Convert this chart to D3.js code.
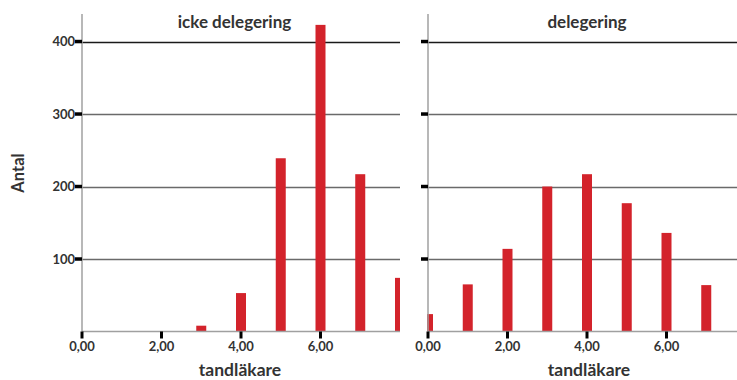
<!DOCTYPE html>
<html><head><meta charset="utf-8">
<script src="https://cdn.jsdelivr.net/npm/d3@7"></script>
<style>html,body{margin:0;padding:0;background:#fff}svg{display:block}</style>
</head><body>
<script>
// Data
const panelTitles = ["icke delegering", "delegering"];
const leftCategories = [3, 4, 5, 6, 7, 8];
const leftValues = [8, 53, 239, 423, 217, 74];
const rightCategories = [0, 1, 2, 3, 4, 5, 6, 7];
const rightValues = [24, 65, 114, 200, 217, 177, 136, 64];
const yTicks = [100, 200, 300, 400];
const xTicks = [0, 2, 4, 6];
const yLabel = "Antal";
const xLabel = "tandläkare";

const W = 737, H = 380;
const FONT = "Lato, 'Open Sans', sans-serif";
const svg = d3.select("body").append("svg").attr("width", W).attr("height", H);

const plotTop = 14, base = 331.5;
const y = d3.scaleLinear().domain([0, 438]).range([base, plotTop]);
const fmt = d => d.toFixed(2).replace(".", ",");

const panels = [
  {title: panelTitles[0], cats: leftCategories, vals: leftValues, x0: 82, x1: 400, dmax: 8, showY: true, titleX: 234.5, labelX: 240},
  {title: panelTitles[1], cats: rightCategories, vals: rightValues, x0: 428, x1: 737, dmax: (737-428)/39.75, showY: false, titleX: 587, labelX: 589}
];

panels.forEach((p, i) => {
  const x = d3.scaleLinear().domain([0, p.dmax]).range([p.x0, p.x1]);
  const g = svg.append("g");
  const clipId = "clip" + i;
  svg.append("clipPath").attr("id", clipId).append("rect")
    .attr("x", p.x0 - 1).attr("y", plotTop).attr("width", p.x1 - p.x0 + 1).attr("height", base - plotTop);

  // gridlines
  g.selectAll(".grid").data(yTicks).join("line")
    .attr("x1", p.x0).attr("x2", p.x1)
    .attr("y1", d => Math.round(y(d)) + 0.5).attr("y2", d => Math.round(y(d)) + 0.5)
    .attr("stroke", d => d === 400 ? "#1a1a1a" : "#6a6a6a").attr("stroke-width", 1.3);

  // bars
  const bw = 10;
  g.append("g").attr("clip-path", `url(#${clipId})`)
    .selectAll("rect").data(p.cats.map((c, j) => ({c, v: p.vals[j]}))).join("rect")
    .attr("x", d => x(d.c) - bw / 2).attr("width", bw)
    .attr("y", d => y(d.v)).attr("height", d => base - y(d.v))
    .attr("fill", "#d3232b");

  // axis lines
  g.append("line").attr("x1", p.x0).attr("x2", p.x0).attr("y1", plotTop).attr("y2", base)
    .attr("stroke", "#a0a0a0").attr("stroke-width", 1.5);
  g.append("line").attr("x1", p.x0).attr("x2", p.x1).attr("y1", base).attr("y2", base)
    .attr("stroke", "#a0a0a0").attr("stroke-width", 1.5);

  // y ticks
  g.selectAll(".yt").data(yTicks).join("line")
    .attr("x1", p.x0 - 7).attr("x2", p.x0)
    .attr("y1", d => y(d)).attr("y2", d => y(d))
    .attr("stroke", "#000").attr("stroke-width", 3.5);
  if (p.showY) {
    g.selectAll(".yl").data(yTicks).join("text")
      .attr("x", p.x0 - 7).attr("y", d => y(d)).attr("dy", "0.35em")
      .attr("text-anchor", "end").attr("font-family", FONT).attr("font-weight", "bold")
      .attr("font-size", 13).attr("fill", "#333").text(d => d);
  }

  // x ticks
  g.selectAll(".xt").data(xTicks).join("line")
    .attr("x1", d => x(d)).attr("x2", d => x(d))
    .attr("y1", base).attr("y2", base + 7)
    .attr("stroke", "#000").attr("stroke-width", 3);
  g.selectAll(".xl").data(xTicks).join("text")
    .attr("x", d => x(d)).attr("y", base + 19)
    .attr("text-anchor", "middle").attr("font-family", FONT).attr("font-weight", "bold")
    .attr("font-size", 13).attr("fill", "#333").text(d => fmt(d));

  // x label
  g.append("text").attr("x", p.labelX).attr("y", 376)
    .attr("text-anchor", "middle").attr("font-family", FONT).attr("font-weight", "bold")
    .attr("font-size", 17.5).attr("fill", "#333").text(xLabel);

  // title
  g.append("text").attr("x", p.titleX).attr("y", 28)
    .attr("text-anchor", "middle").attr("font-family", FONT).attr("font-weight", "bold")
    .attr("font-size", 17).attr("fill", "#333").text(p.title);
});

svg.append("text").attr("transform", "translate(24,173) rotate(-90)")
  .attr("text-anchor", "middle").attr("font-family", FONT).attr("font-weight", "bold")
  .attr("font-size", 16.5).attr("fill", "#333").text(yLabel);
</script>
</body></html>
